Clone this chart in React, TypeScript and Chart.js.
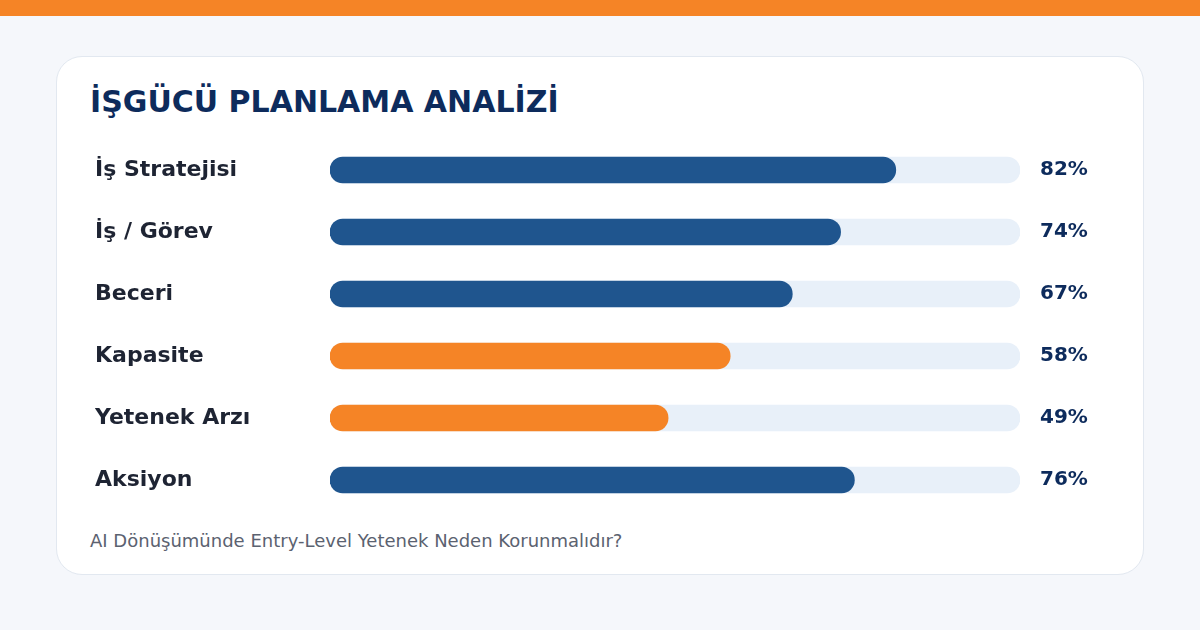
import { useEffect, useRef } from "react";
import Chart from "chart.js/auto";

const categories = ["İş Stratejisi", "İş / Görev", "Beceri", "Kapasite", "Yetenek Arzı", "Aksiyon"];
const scores = [82, 74, 67, 58, 49, 76];
const highlighted = ["Kapasite", "Yetenek Arzı"];
const maxScore = 100;

const FONT = "'DejaVu Sans', sans-serif";

export default function App() {
  const chartRef = useRef<HTMLCanvasElement>(null);
  const chartInstance = useRef<Chart | null>(null);

  useEffect(() => {
    document.body.style.margin = "0";
    if (!chartRef.current) return;

    if (chartInstance.current) {
      chartInstance.current.destroy();
    }

    const ctx = chartRef.current.getContext("2d");
    if (!ctx) return;

    // draws the percentage next to each track
    const valueLabels = {
      id: "valueLabels",
      afterDatasetsDraw(chart: Chart) {
        const meta = chart.getDatasetMeta(0);
        const c = chart.ctx;
        c.save();
        c.font = `bold 20px ${FONT}`;
        c.fillStyle = "#0d2b5c";
        c.textAlign = "left";
        c.textBaseline = "middle";
        meta.data.forEach((bar: any, i: number) => {
          c.fillText(`${scores[i]}%`, chart.chartArea.right + 20, bar.y);
        });
        c.restore();
      }
    };

    chartInstance.current = new Chart(ctx, {
      type: "bar",
      data: {
        labels: categories,
        datasets: [
          {
            label: "Skor",
            data: scores,
            backgroundColor: categories.map(c => (highlighted.includes(c) ? "#f58426" : "#1f558e")),
            barThickness: 26,
            borderRadius: 13,
            borderSkipped: false,
            grouped: false,
            order: 0
          },
          {
            label: "Track",
            data: categories.map(() => maxScore),
            backgroundColor: "#e8f0f9",
            barThickness: 26,
            borderRadius: 13,
            borderSkipped: false,
            grouped: false,
            order: 1
          }
        ]
      },
      options: {
        indexAxis: "y",
        responsive: true,
        maintainAspectRatio: false,
        animation: false,
        layout: {
          autoPadding: false,
          padding: { left: 95, right: 180, top: 0, bottom: 0 }
        },
        scales: {
          x: {
            display: false,
            min: 0,
            max: maxScore
          },
          y: {
            grid: { display: false },
            border: { display: false },
            afterFit: (scale: any) => {
              scale.width = 235;
              scale.paddingTop = 0;
              scale.paddingBottom = 0;
            },
            ticks: {
              crossAlign: "far",
              color: "#1e2433",
              font: { family: FONT, size: 22, weight: "bold" }
            }
          }
        },
        plugins: {
          legend: { display: false },
          tooltip: { enabled: false }
        }
      },
      plugins: [valueLabels]
    });

    return () => {
      if (chartInstance.current) {
        chartInstance.current.destroy();
        chartInstance.current = null;
      }
    };
  }, []);

  return (
    <div style={{ position: "relative", width: 1200, height: 630, background: "#f5f7fb", overflow: "hidden", fontFamily: FONT }}>
      <div style={{ position: "absolute", left: 0, top: 0, width: 1200, height: 16, background: "#f58426" }} />
      <div
        style={{
          position: "absolute",
          left: 56,
          top: 56,
          width: 1088,
          height: 519,
          boxSizing: "border-box",
          background: "#ffffff",
          border: "1px solid #e2e8f0",
          borderRadius: 26
        }}
      />
      <div
        style={{
          position: "absolute",
          left: 90,
          top: 87,
          fontSize: 30,
          lineHeight: "30px",
          fontWeight: "bold",
          color: "#0d2b5c",
          whiteSpace: "nowrap"
        }}
      >
        İŞGÜCÜ PLANLAMA ANALİZİ
      </div>
      <div style={{ position: "absolute", left: 0, top: 139, width: 1200, height: 372 }}>
        <canvas ref={chartRef} />
      </div>
      <div
        style={{
          position: "absolute",
          left: 90,
          top: 532,
          fontSize: 18,
          lineHeight: "18px",
          color: "#5b6270",
          whiteSpace: "nowrap"
        }}
      >
        AI Dönüşümünde Entry-Level Yetenek Neden Korunmalıdır?
      </div>
    </div>
  );
}
